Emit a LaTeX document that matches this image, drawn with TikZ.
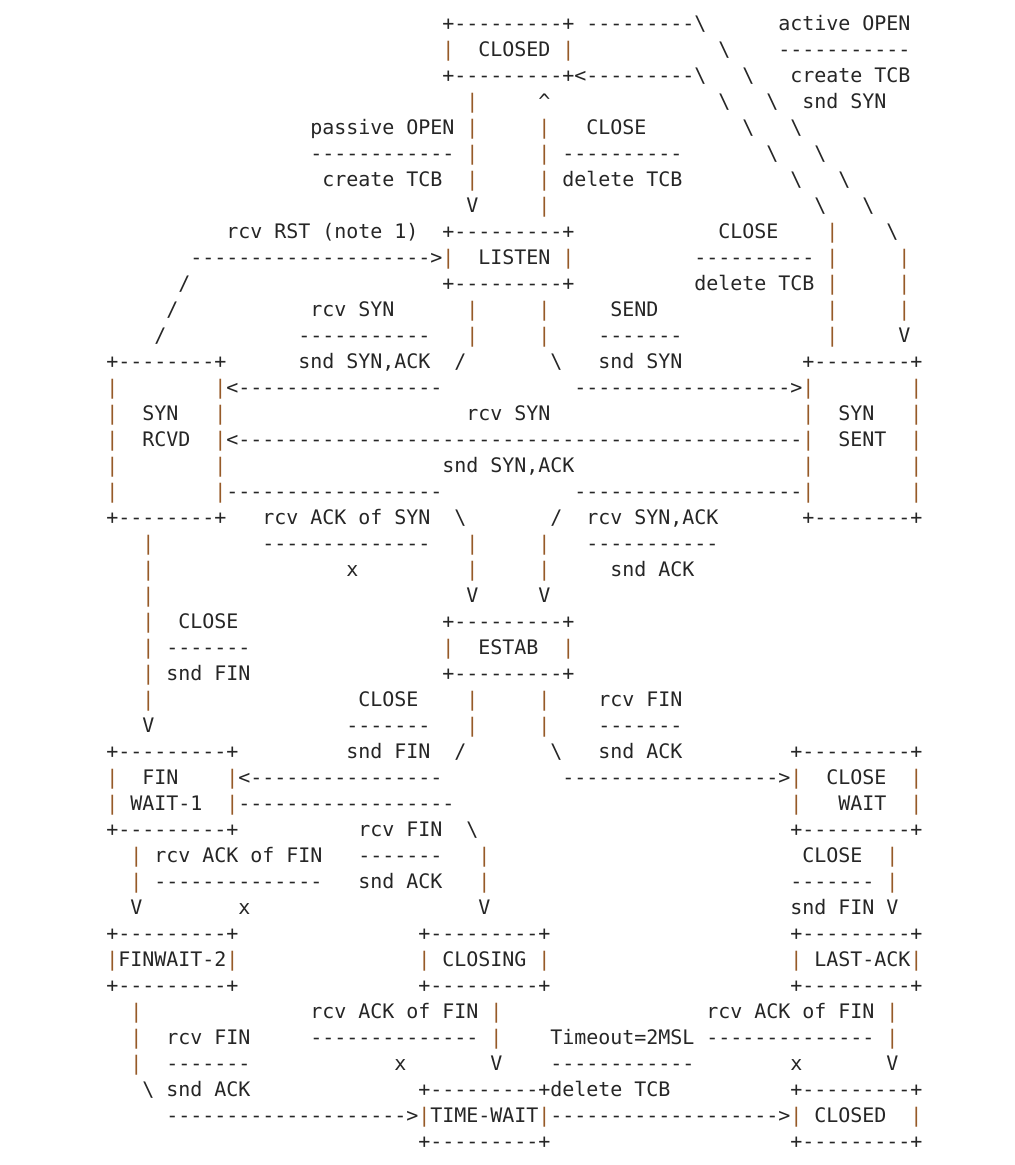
\documentclass[tikz,border=0pt]{standalone}
\usepackage{fontspec}
\setmonofont{DejaVu Sans Mono}
\usepackage{xcolor}
\definecolor{inkgray}{RGB}{38,38,38}
\definecolor{barbrown}{RGB}{150,90,40}

% one fixed-width cell per character; vertical bars are tinted
\newcommand\asccell[1]{\makebox[12pt][c]{#1}}

\ExplSyntaxOn
\tl_new:N \l__asc_tl
\NewDocumentCommand \asciidef { m v }
 {
  \tl_clear:N \l__asc_tl
  \str_map_inline:nn {#2}
   {
    \str_if_eq:nnTF {##1} {|}
     { \tl_put_right:Nn \l__asc_tl { \asccell { \color{barbrown} | } } }
     { \tl_put_right:Nn \l__asc_tl { \asccell {##1} } }
   }
  \cs_gset_eq:cN { asc@row@#1 } \l__asc_tl
 }
\ExplSyntaxOff

% TCP connection state diagram, one text row per line
\asciidef{1}!                            +---------+ ---------\      active OPEN!
\asciidef{2}!                            |  CLOSED |            \    -----------!
\asciidef{3}!                            +---------+<---------\   \   create TCB!
\asciidef{4}!                              |     ^              \   \  snd SYN!
\asciidef{5}!                 passive OPEN |     |   CLOSE        \   \!
\asciidef{6}!                 ------------ |     | ----------       \   \!
\asciidef{7}!                  create TCB  |     | delete TCB         \   \!
\asciidef{8}!                              V     |                      \   \!
\asciidef{9}!          rcv RST (note 1)  +---------+            CLOSE    |    \!
\asciidef{10}!       -------------------->|  LISTEN |          ---------- |     |!
\asciidef{11}!      /                     +---------+          delete TCB |     |!
\asciidef{12}!     /           rcv SYN      |     |     SEND              |     |!
\asciidef{13}!    /           -----------   |     |    -------            |     V!
\asciidef{14}!+--------+      snd SYN,ACK  /       \   snd SYN          +--------+!
\asciidef{15}!|        |<-----------------           ------------------>|        |!
\asciidef{16}!|  SYN   |                    rcv SYN                     |  SYN   |!
\asciidef{17}!|  RCVD  |<-----------------------------------------------|  SENT  |!
\asciidef{18}!|        |                  snd SYN,ACK                   |        |!
\asciidef{19}!|        |------------------           -------------------|        |!
\asciidef{20}!+--------+   rcv ACK of SYN  \       /  rcv SYN,ACK       +--------+!
\asciidef{21}!   |         --------------   |     |   -----------!
\asciidef{22}!   |                x         |     |     snd ACK!
\asciidef{23}!   |                          V     V!
\asciidef{24}!   |  CLOSE                 +---------+!
\asciidef{25}!   | -------                |  ESTAB  |!
\asciidef{26}!   | snd FIN                +---------+!
\asciidef{27}!   |                 CLOSE    |     |    rcv FIN!
\asciidef{28}!   V                -------   |     |    -------!
\asciidef{29}!+---------+         snd FIN  /       \   snd ACK         +---------+!
\asciidef{30}!|  FIN    |<----------------          ------------------>|  CLOSE  |!
\asciidef{31}!| WAIT-1  |------------------                            |   WAIT  |!
\asciidef{32}!+---------+          rcv FIN  \                          +---------+!
\asciidef{33}!  | rcv ACK of FIN   -------   |                          CLOSE  |!
\asciidef{34}!  | --------------   snd ACK   |                         ------- |!
\asciidef{35}!  V        x                   V                         snd FIN V!
\asciidef{36}!+---------+               +---------+                    +---------+!
\asciidef{37}!|FINWAIT-2|               | CLOSING |                    | LAST-ACK|!
\asciidef{38}!+---------+               +---------+                    +---------+!
\asciidef{39}!  |              rcv ACK of FIN |                 rcv ACK of FIN |!
\asciidef{40}!  |  rcv FIN     -------------- |    Timeout=2MSL -------------- |!
\asciidef{41}!  |  -------            x       V    ------------        x       V!
\asciidef{42}!   \ snd ACK              +---------+delete TCB          +---------+!
\asciidef{43}!     -------------------->|TIME-WAIT|------------------->| CLOSED  |!
\asciidef{44}!                          +---------+                    +---------+!

\begin{document}
\begin{tikzpicture}[x=1pt,y=-1pt,
  asciirow/.style={anchor=base west, inner sep=0pt, outer sep=0pt,
    font=\ttfamily\fontsize{20}{26}\selectfont, text=inkgray}]
\fill[white] (0,0) rectangle (1015,1165);
\useasboundingbox (0,0) rectangle (1015,1165);
\foreach \r in {1,...,44}
  \node[asciirow] (row\r) at (106.5,{30+26*(\r-1)}) {\csname asc@row@\r\endcsname};
\end{tikzpicture}
\end{document}
